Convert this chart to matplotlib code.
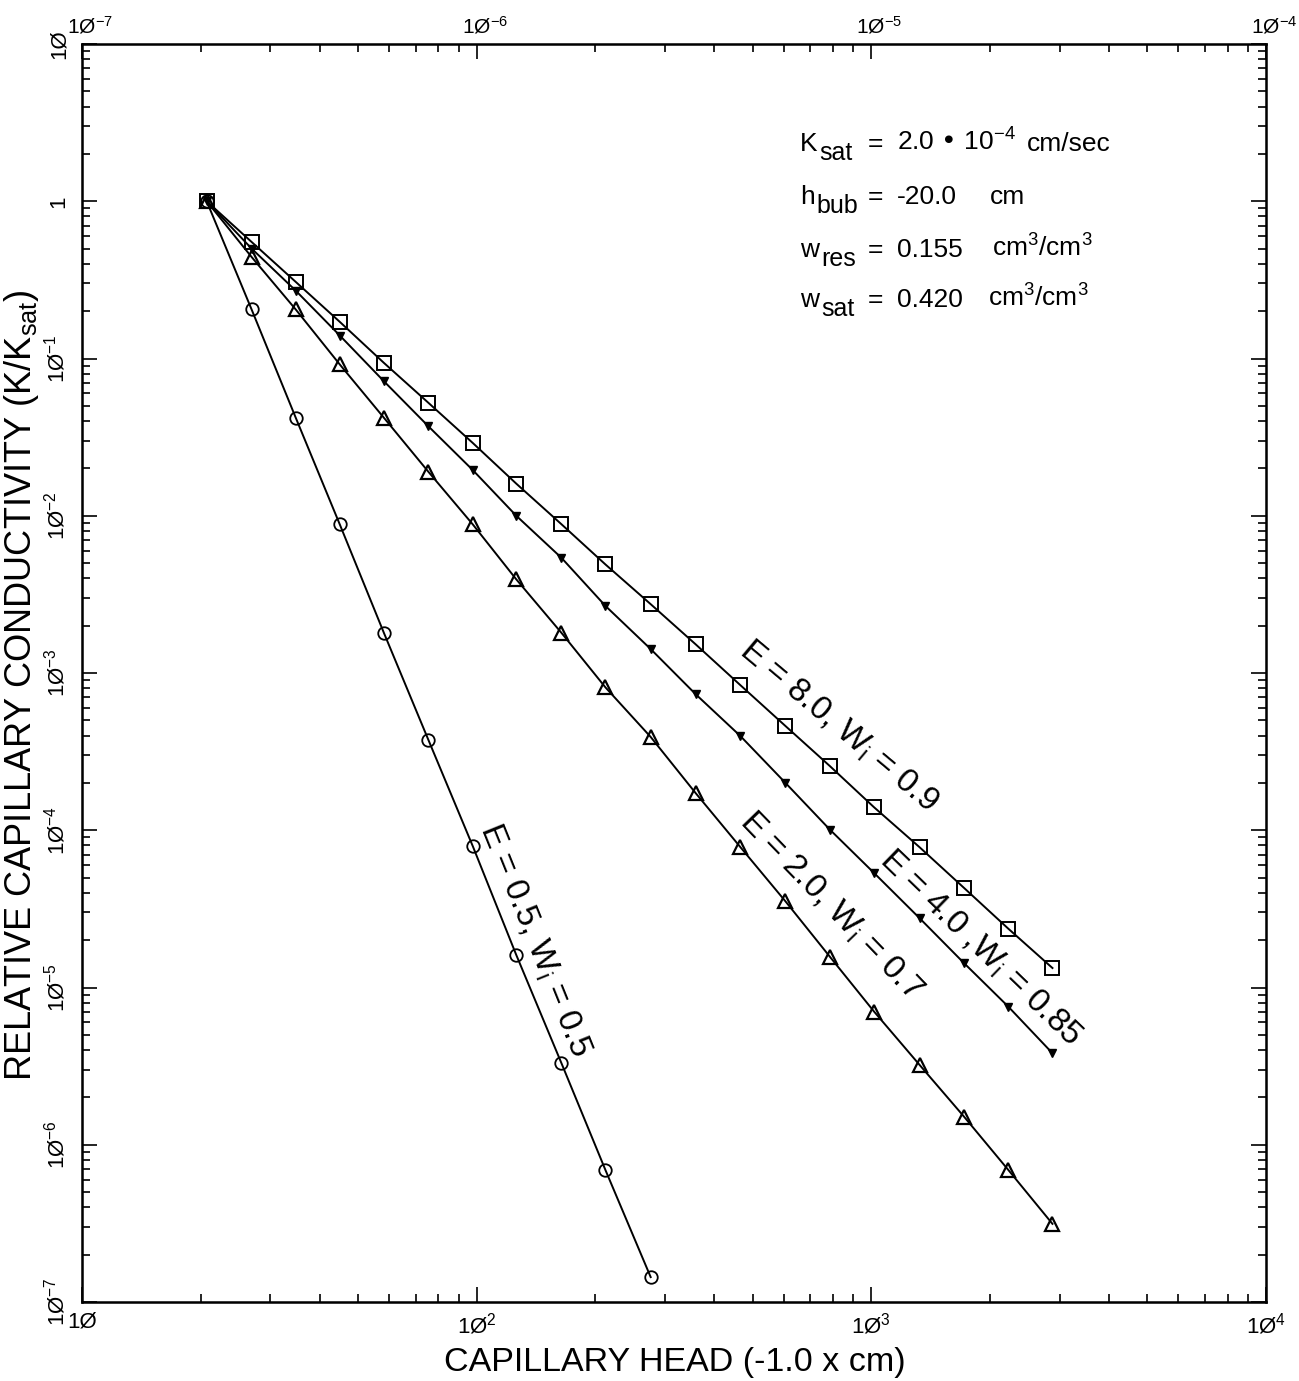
import matplotlib
matplotlib.use('Agg')
import matplotlib.pyplot as plt
from matplotlib.ticker import LogLocator, NullFormatter, FixedLocator, FixedFormatter
from matplotlib.transforms import ScaledTranslation

W, H = 1299, 1381
plt.rcParams['font.family'] = ['Liberation Sans', 'DejaVu Sans']
plt.rcParams['mathtext.default'] = 'regular'

# ---- data ----
head = [20.7, 26.9, 34.8, 45.0, 58.2, 75.5, 97.8, 126, 164, 212, 276, 359,
        466, 606, 785, 1016, 1325, 1717, 2222, 2877]
k_e05 = [1.0, 0.205, 0.042, 8.8e-3, 1.8e-3, 3.74e-4, 7.9e-5, 1.61e-5,
         3.3e-6, 6.9e-7, 1.44e-7]
k_e20 = [1.0, 0.442, 0.205, 0.0916, 0.042, 0.019, 8.8e-3, 3.94e-3, 1.8e-3,
         8.1e-4, 3.92e-4, 1.72e-4, 7.8e-5, 3.53e-5, 1.57e-5, 7.03e-6,
         3.22e-6, 1.51e-6, 6.93e-7, 3.14e-7]
k_e40 = [1.0, 0.5, 0.27, 0.14, 0.0717, 0.037, 0.0195, 0.0100, 5.4e-3,
         2.67e-3, 1.42e-3, 7.32e-4, 3.97e-4, 2.0e-4, 1.01e-4, 5.35e-5,
         2.76e-5, 1.43e-5, 7.57e-6, 3.82e-6]
k_e80 = [1.0, 0.551, 0.307, 0.171, 0.0938, 0.0522, 0.029, 0.016, 8.83e-3,
         4.9e-3, 2.74e-3, 1.52e-3, 8.36e-4, 4.6e-4, 2.56e-4, 1.4e-4,
         7.8e-5, 4.3e-5, 2.37e-5, 1.33e-5]

series_labels = [r'E = 0.5, W$_i$ = 0.5', r'E = 2.0, W$_i$ = 0.7',
                 r'E = 4.0 ,W$_i$ = 0.85', r'E = 8.0, W$_i$ = 0.9']

x_ticks = [10, 100, 1000, 10000]
x_ticklabels = ['1Ø', '1Ø$^{2}$', '1Ø$^{3}$', '1Ø$^{4}$']
y_ticks = [1e-7, 1e-6, 1e-5, 1e-4, 1e-3, 1e-2, 1e-1, 1, 10]
y_ticklabels = ['1Ø$^{-7}$', '1Ø$^{-6}$', '1Ø$^{-5}$', '1Ø$^{-4}$',
                '1Ø$^{-3}$', '1Ø$^{-2}$', '1Ø$^{-1}$', '1', '1Ø']
top_ticks = [1e-7, 1e-6, 1e-5, 1e-4]
top_ticklabels = ['1Ø$^{-7}$', '1Ø$^{-6}$', '1Ø$^{-5}$', '1Ø$^{-4}$']

fig = plt.figure(figsize=(W / 100, H / 100), dpi=100)
ax = fig.add_axes([82 / W, 1 - 1302 / H, (1266 - 82) / W, (1302 - 44) / H])
ax.set_xscale('log')
ax.set_yscale('log')
ax.set_xlim(10, 1e4)
ax.set_ylim(1e-7, 10)

lw = 1.4
ax.plot(head[:len(k_e05)], k_e05, color='black', lw=lw, marker='o', ms=9,
        mfc='none', mec='black', mew=1.3)
ax.plot(head, k_e20, color='black', lw=lw, marker='^', ms=10,
        mfc='none', mec='black', mew=1.6)
ax.plot(head, k_e40, color='black', lw=lw, marker='v', ms=5.5,
        mfc='black', mec='black', mew=1.0)
ax.plot(head, k_e80, color='black', lw=lw, marker='s', ms=10,
        mfc='none', mec='black', mew=1.4)

# curve labels
lab_pos = [(140, 2.0e-5, -68), (790, 3.3e-5, -46), (1884, 1.78e-5, -44),
           (823, 4.6e-4, -40)]
for (lx, ly, rot), txt in zip(lab_pos, series_labels):
    ax.text(lx, ly, txt, fontsize=24, rotation=rot, ha='center',
            va='center', rotation_mode='anchor')

# ticks
for spine in ax.spines.values():
    spine.set_linewidth(1.8)
ax.xaxis.set_major_locator(FixedLocator(x_ticks))
ax.xaxis.set_major_formatter(FixedFormatter(x_ticklabels))
ax.xaxis.set_minor_locator(LogLocator(base=10, subs=range(2, 10), numticks=20))
ax.xaxis.set_minor_formatter(NullFormatter())
ax.yaxis.set_major_locator(FixedLocator(y_ticks))
ax.yaxis.set_major_formatter(FixedFormatter(y_ticklabels))
ax.yaxis.set_minor_locator(LogLocator(base=10, subs=range(2, 10), numticks=20))
ax.yaxis.set_minor_formatter(NullFormatter())
ax.tick_params(which='both', direction='in', right=True, top=False,
               width=1.2, labelsize=16)
ax.tick_params(which='major', length=11)
ax.tick_params(which='minor', length=6)
ax.tick_params(axis='y', labelrotation=90, pad=9)
ax.tick_params(axis='x', pad=7)
for t in ax.get_yticklabels():
    t.set_va('center')

ax2 = ax.twiny()
ax2.set_xscale('log')
ax2.set_xlim(1e-7, 1e-4)
ax2.xaxis.set_major_locator(FixedLocator(top_ticks))
ax2.xaxis.set_major_formatter(FixedFormatter(top_ticklabels))
ax2.xaxis.set_minor_locator(LogLocator(base=10, subs=range(2, 10), numticks=20))
ax2.xaxis.set_minor_formatter(NullFormatter())
ax2.tick_params(which='both', direction='in', width=1.2, labelsize=15, pad=5)
ax2.tick_params(which='major', length=11)
ax2.tick_params(which='minor', length=6)
shift = ScaledTranslation(8 / 100, 0, fig.dpi_scale_trans)
for t in ax2.get_xticklabels():
    t.set_transform(t.get_transform() + shift)

ax.set_xlabel('CAPILLARY HEAD (-1.0 x cm)', fontsize=24.5)
ax.set_ylabel(r'RELATIVE CAPILLARY CONDUCTIVITY (K/K$_{sat}$)', fontsize=26)
ax.xaxis.set_label_coords(0.501, -0.036)
ax.yaxis.set_label_coords(-0.035, 0.49)

# parameter block (pixel positions converted to figure fraction)
def fx(px):
    return px / W

def fy(py):
    return 1 - py / H

fs = 19
params = [
    ('K', 'sat', '2.0 • 10$^{-4}$', 'cm/sec', 151, 1027, 800, 819),
    ('h', 'bub', '-20.0', 'cm', 204, 990, 800, 816),
    ('w', 'res', '0.155', 'cm$^{3}$/cm$^{3}$', 257, 992, 800, 821),
    ('w', 'sat', '0.420', 'cm$^{3}$/cm$^{3}$', 307, 988, 800, 821),
]
for base, sub, val, unit, yb, ux, bx, sx in params:
    fig.text(fx(bx), fy(yb), base, fontsize=fs, va='baseline', ha='left')
    fig.text(fx(sx), fy(yb + 9), sub, fontsize=fs - 1, va='baseline', ha='left')
    fig.text(fx(868), fy(yb), '=', fontsize=fs, va='baseline', ha='left')
    fig.text(fx(897), fy(yb), val, fontsize=fs, va='baseline', ha='left')
    fig.text(fx(ux), fy(yb), unit, fontsize=fs, va='baseline', ha='left')

fig.savefig('out.png', dpi=100, facecolor='white')
